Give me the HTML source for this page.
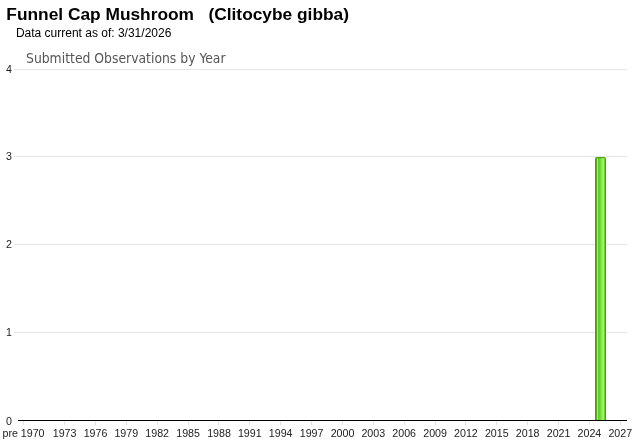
<!DOCTYPE html>
<html>
<head>
<meta charset="utf-8">
<title>Funnel Cap Mushroom (Clitocybe gibba)</title>
<style>
html,body{margin:0;padding:0;background:#fff;}
body{width:640px;height:442px;position:relative;overflow:hidden;font-family:"Liberation Sans",Arial,sans-serif;color:#000;}
.abs{position:absolute;white-space:pre;}
#title{left:6.3px;top:4px;font-size:17.33px;font-weight:bold;line-height:20px;}
#sub{left:15.9px;top:25.4px;font-size:12px;line-height:16px;}
#ctitle{left:25.8px;top:49.5px;font-size:14px;line-height:17px;font-family:"DejaVu Sans Condensed","DejaVu Sans",Verdana,sans-serif;font-stretch:condensed;color:#555;transform-origin:0 0;transform:scaleX(0.985);}
.grid{position:absolute;left:14px;width:613px;height:1px;background:#e6e6e6;}
.yl{position:absolute;left:0;width:12px;text-align:right;font-size:10.67px;line-height:12px;color:#222;}
#axis{position:absolute;left:18px;width:609px;top:420px;height:1px;background:#000;}
.tick{position:absolute;top:421px;width:1px;height:4px;background:#e2e2e2;}
.xl{position:absolute;top:427px;width:60px;margin-left:-30px;text-align:center;font-size:10.67px;line-height:13px;color:#222;white-space:pre;}
#bar{position:absolute;left:595px;top:157px;width:11px;height:263px;box-sizing:border-box;border-top:1px solid #43a700;border-radius:2px 2px 0 0;overflow:hidden;
background:linear-gradient(to right,#43a700 0px,#43a700 1px,#4fb010 1px,#4fb010 2px,#b2e08e 2px,#b2e08e 3px,#68cb2c 3px,#68cb2c 4px,#6ccf30 4px,#6ccf30 5px,#76d93b 5px,#76d93b 6px,#84e84a 6px,#84e84a 7px,#90f556 7px,#90f556 8px,#96fb5c 8px,#96fb5c 9px,#6ed232 9px,#6ed232 10px,#43a700 10px,#43a700 11px);}
#bar:before{content:"";position:absolute;left:0;top:0;width:11px;height:1px;background:rgba(67,167,0,0.22);}
</style>
</head>
<body><div id="wrap" style="position:absolute;left:0;top:0;width:640px;height:442px;will-change:transform;">
<div id="title" class="abs">Funnel Cap Mushroom   (Clitocybe gibba)</div>
<div id="sub" class="abs">Data current as of: 3/31/2026</div>
<div id="ctitle" class="abs">Submitted Observations by Year</div>

<div class="grid" style="top:69px"></div>
<div class="grid" style="top:156px"></div>
<div class="grid" style="top:244px"></div>
<div class="grid" style="top:332px"></div>

<div class="yl" style="top:63px;transform:translateY(0.4px)">4</div>
<div class="yl" style="top:150px;transform:translateY(0.4px)">3</div>
<div class="yl" style="top:238px;transform:translateY(0.4px)">2</div>
<div class="yl" style="top:326px;transform:translateY(0.4px)">1</div>
<div class="yl" style="top:414.5px">0</div>

<div id="bar"></div>
<div id="axis"></div>

<div id="ticks">
<div class="tick" style="left:23px"></div>
<div class="tick" style="left:64px"></div>
<div class="tick" style="left:95px"></div>
<div class="tick" style="left:126px"></div>
<div class="tick" style="left:157px"></div>
<div class="tick" style="left:188px"></div>
<div class="tick" style="left:218px"></div>
<div class="tick" style="left:249px"></div>
<div class="tick" style="left:280px"></div>
<div class="tick" style="left:311px"></div>
<div class="tick" style="left:342px"></div>
<div class="tick" style="left:373px"></div>
<div class="tick" style="left:404px"></div>
<div class="tick" style="left:435px"></div>
<div class="tick" style="left:465px"></div>
<div class="tick" style="left:496px"></div>
<div class="tick" style="left:527px"></div>
<div class="tick" style="left:558px"></div>
<div class="tick" style="left:589px"></div>
<div class="tick" style="left:620px"></div>
</div>
<div id="xlabels">
<div class="xl" style="left:23.5px">pre 1970</div>
<div class="xl" style="left:64.6px">1973</div>
<div class="xl" style="left:95.5px">1976</div>
<div class="xl" style="left:126.3px">1979</div>
<div class="xl" style="left:157.2px">1982</div>
<div class="xl" style="left:188.1px">1985</div>
<div class="xl" style="left:219.0px">1988</div>
<div class="xl" style="left:249.8px">1991</div>
<div class="xl" style="left:280.7px">1994</div>
<div class="xl" style="left:311.6px">1997</div>
<div class="xl" style="left:342.5px">2000</div>
<div class="xl" style="left:373.3px">2003</div>
<div class="xl" style="left:404.2px">2006</div>
<div class="xl" style="left:435.1px">2009</div>
<div class="xl" style="left:465.9px">2012</div>
<div class="xl" style="left:496.8px">2015</div>
<div class="xl" style="left:527.7px">2018</div>
<div class="xl" style="left:558.6px">2021</div>
<div class="xl" style="left:589.4px">2024</div>
<div class="xl" style="left:620.3px">2027</div>
</div>
</div></body>
</html>
